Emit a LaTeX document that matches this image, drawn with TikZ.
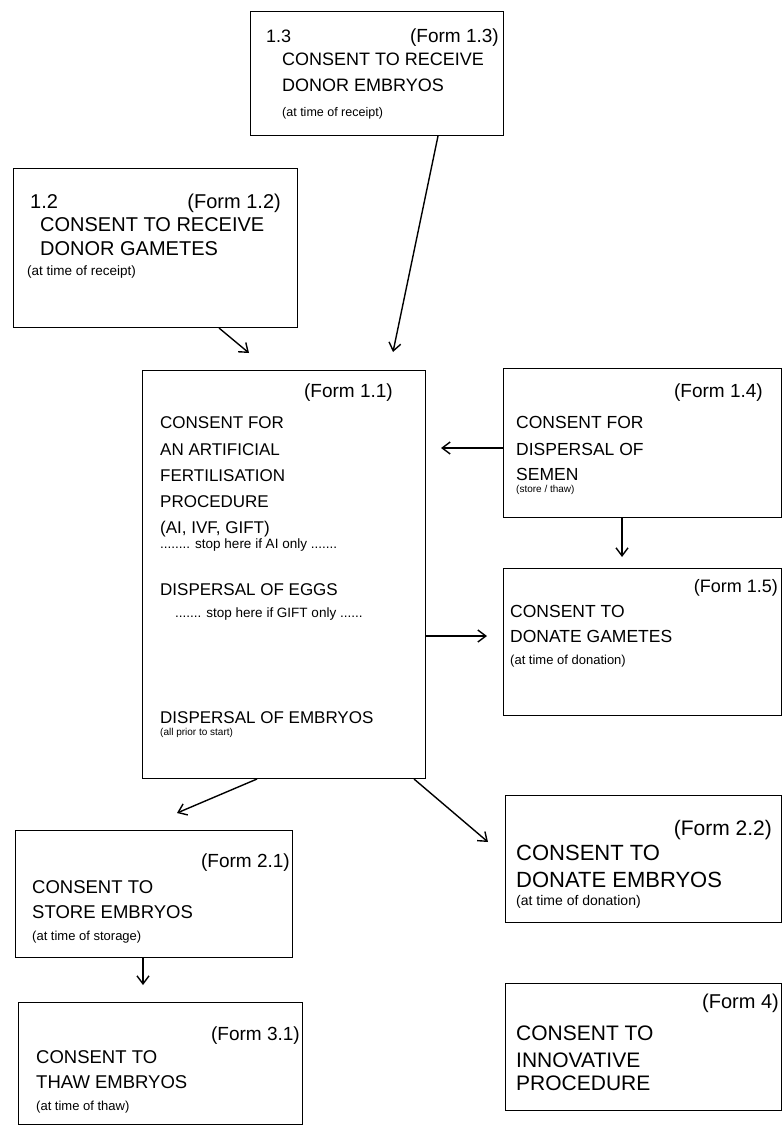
\documentclass[tikz,border=0pt]{standalone}
\usepackage{fontspec}
\setmainfont{Liberation Sans}
\usepackage{tikz}
\usetikzlibrary{arrows.meta}
\tikzstyle{box}=[draw,line width=1pt,anchor=north west,inner sep=0pt]
\tikzset{
  txt/.style={anchor=base west,inner sep=0pt,font=\fontsize{#1}{#1}\selectfont},
  txt/.default=17,
  form/.style={anchor=base east,inner sep=0pt,font=\fontsize{#1}{#1}\selectfont},
  form/.default=19,
  small/.style={anchor=base west,inner sep=0pt,font=\fontsize{#1}{#1}\selectfont},
  small/.default=13
}
\tikzstyle{arr}=[->,line width=1.4pt]
\tikzset{>={Straight Barb[length=8pt,width=12pt]}}

\begin{document}
\begin{tikzpicture}[x=1pt,y=-1pt]
\useasboundingbox (0,0) rectangle (783,1126);

% boxes
\node[box,minimum width=253pt,minimum height=124pt] (f13) at (250,11) {};
\node[box,minimum width=284pt,minimum height=159pt] (f12) at (13,168) {};
\node[box,minimum width=283pt,minimum height=408pt] (f11) at (142,370) {};
\node[box,minimum width=278pt,minimum height=149pt] (f14) at (503,368) {};
\node[box,minimum width=278pt,minimum height=147pt] (f15) at (503,568) {};
\node[box,minimum width=277pt,minimum height=127pt] (f21) at (15,830) {};
\node[box,minimum width=276pt,minimum height=127pt] (f22) at (505,795) {};
\node[box,minimum width=284pt,minimum height=122pt] (f31) at (18,1002) {};
\node[box,minimum width=276pt,minimum height=127pt] (f4) at (505,983) {};

% form 1.3
\node[txt=18] (n13) at (266,43) {1.3};
\node[form] (t13a) at (499,43) {(Form 1.3)};
\node[txt=18] (t13b) at (282,66) {CONSENT TO RECEIVE};
\node[txt=18] (t13c) at (282,92) {DONOR EMBRYOS};
\node[small=12.5] (t13d) at (282,117) {(at time of receipt)};

% form 1.2
\node[txt=20] (n12) at (30,208) {1.2};
\node[form=20] (t12a) at (281,208) {(Form 1.2)};
\node[txt=20] (t12b) at (40,231) {CONSENT TO RECEIVE};
\node[txt=20] (t12c) at (40,255) {DONOR GAMETES};
\node[small=13.5] (t12d) at (27,275) {(at time of receipt)};

% form 1.1
\node[form] (t11a) at (393,397) {(Form 1.1)};
\node[txt] (t11b) at (160,428) {CONSENT FOR};
\node[txt] (t11c) at (160,455) {AN ARTIFICIAL};
\node[txt] (t11d) at (160,481) {FERTILISATION};
\node[txt] (t11e) at (160,507) {PROCEDURE};
\node[txt] (t11f) at (160,533) {(AI, IVF, GIFT)};
\node[small=13.5] (t11g) at (160,548) {........ stop here if AI only .......};
\node[txt] (t11h) at (160,595) {DISPERSAL OF EGGS};
\node[small=13.5] (t11i) at (175,617) {....... stop here if GIFT only ......};
\node[txt] (t11j) at (160,723) {DISPERSAL OF EMBRYOS};
\node[small=10] (t11k) at (160,735) {(all prior to start)};

% form 1.4
\node[form] (t14a) at (763,397) {(Form 1.4)};
\node[txt=17.5] (t14b) at (516,428) {CONSENT FOR};
\node[txt=17.5] (t14c) at (516,455) {DISPERSAL OF};
\node[txt=17.5] (t14d) at (516,480) {SEMEN};
\node[small=10] (t14e) at (516,492) {(store / thaw)};

% form 1.5
\node[form=18] (t15a) at (778,592) {(Form 1.5)};
\node[txt=17.5] (t15b) at (510,617) {CONSENT TO};
\node[txt=17.5] (t15c) at (510,642) {DONATE GAMETES};
\node[small] (t15d) at (510,664) {(at time of donation)};

% form 2.1
\node[form] (t21a) at (290,867) {(Form 2.1)};
\node[txt=18.5] (t21b) at (32,893) {CONSENT TO};
\node[txt=18.5] (t21c) at (32,918) {STORE EMBRYOS};
\node[small] (t21d) at (32,940) {(at time of storage)};

% form 2.2
\node[form=21] (t22a) at (772,835) {(Form 2.2)};
\node[txt=22] (t22b) at (516,860) {CONSENT TO};
\node[txt=22] (t22c) at (516,887) {DONATE EMBRYOS};
\node[small=14] (t22d) at (516,905) {(at time of donation)};

% form 3.1
\node[form] (t31a) at (300,1040) {(Form 3.1)};
\node[txt=18.5] (t31b) at (36,1063) {CONSENT TO};
\node[txt=18.5] (t31c) at (36,1088) {THAW EMBRYOS};
\node[small] (t31d) at (36,1110) {(at time of thaw)};

% form 4
\node[form=20] (t4a) at (779,1008) {(Form 4)};
\node[txt=21] (t4b) at (516,1040) {CONSENT TO};
\node[txt=21] (t4c) at (516,1067) {INNOVATIVE};
\node[txt=21] (t4d) at (516,1090) {PROCEDURE};

% arrow ends
\coordinate (h13) at (393,352);
\coordinate (h12) at (249,353);
\coordinate (h14) at (441,448);
\coordinate (h15) at (487,636);
\coordinate (h1415) at (622,557);
\coordinate (h21) at (177,813);
\coordinate (h22) at (488,842);
\coordinate (h31) at (143,985);

% arrows
\draw[arr] ([xshift=188pt]f13.south west) -- (h13);
\draw[arr] ([xshift=206pt]f12.south west) -- (h12);
\draw[arr] ([yshift=-80pt]f14.north west) -- (h14);
\draw[arr] ([yshift=-266pt]f11.north east) -- (h15);
\draw[arr] ([xshift=119pt]f14.south west) -- (h1415);
\draw[arr] ([xshift=115pt]f11.south west) -- (h21);
\draw[arr] ([xshift=-12pt]f11.south east) -- (h22);
\draw[arr] ([xshift=128pt]f21.south west) -- (h31);

\end{tikzpicture}
\end{document}
